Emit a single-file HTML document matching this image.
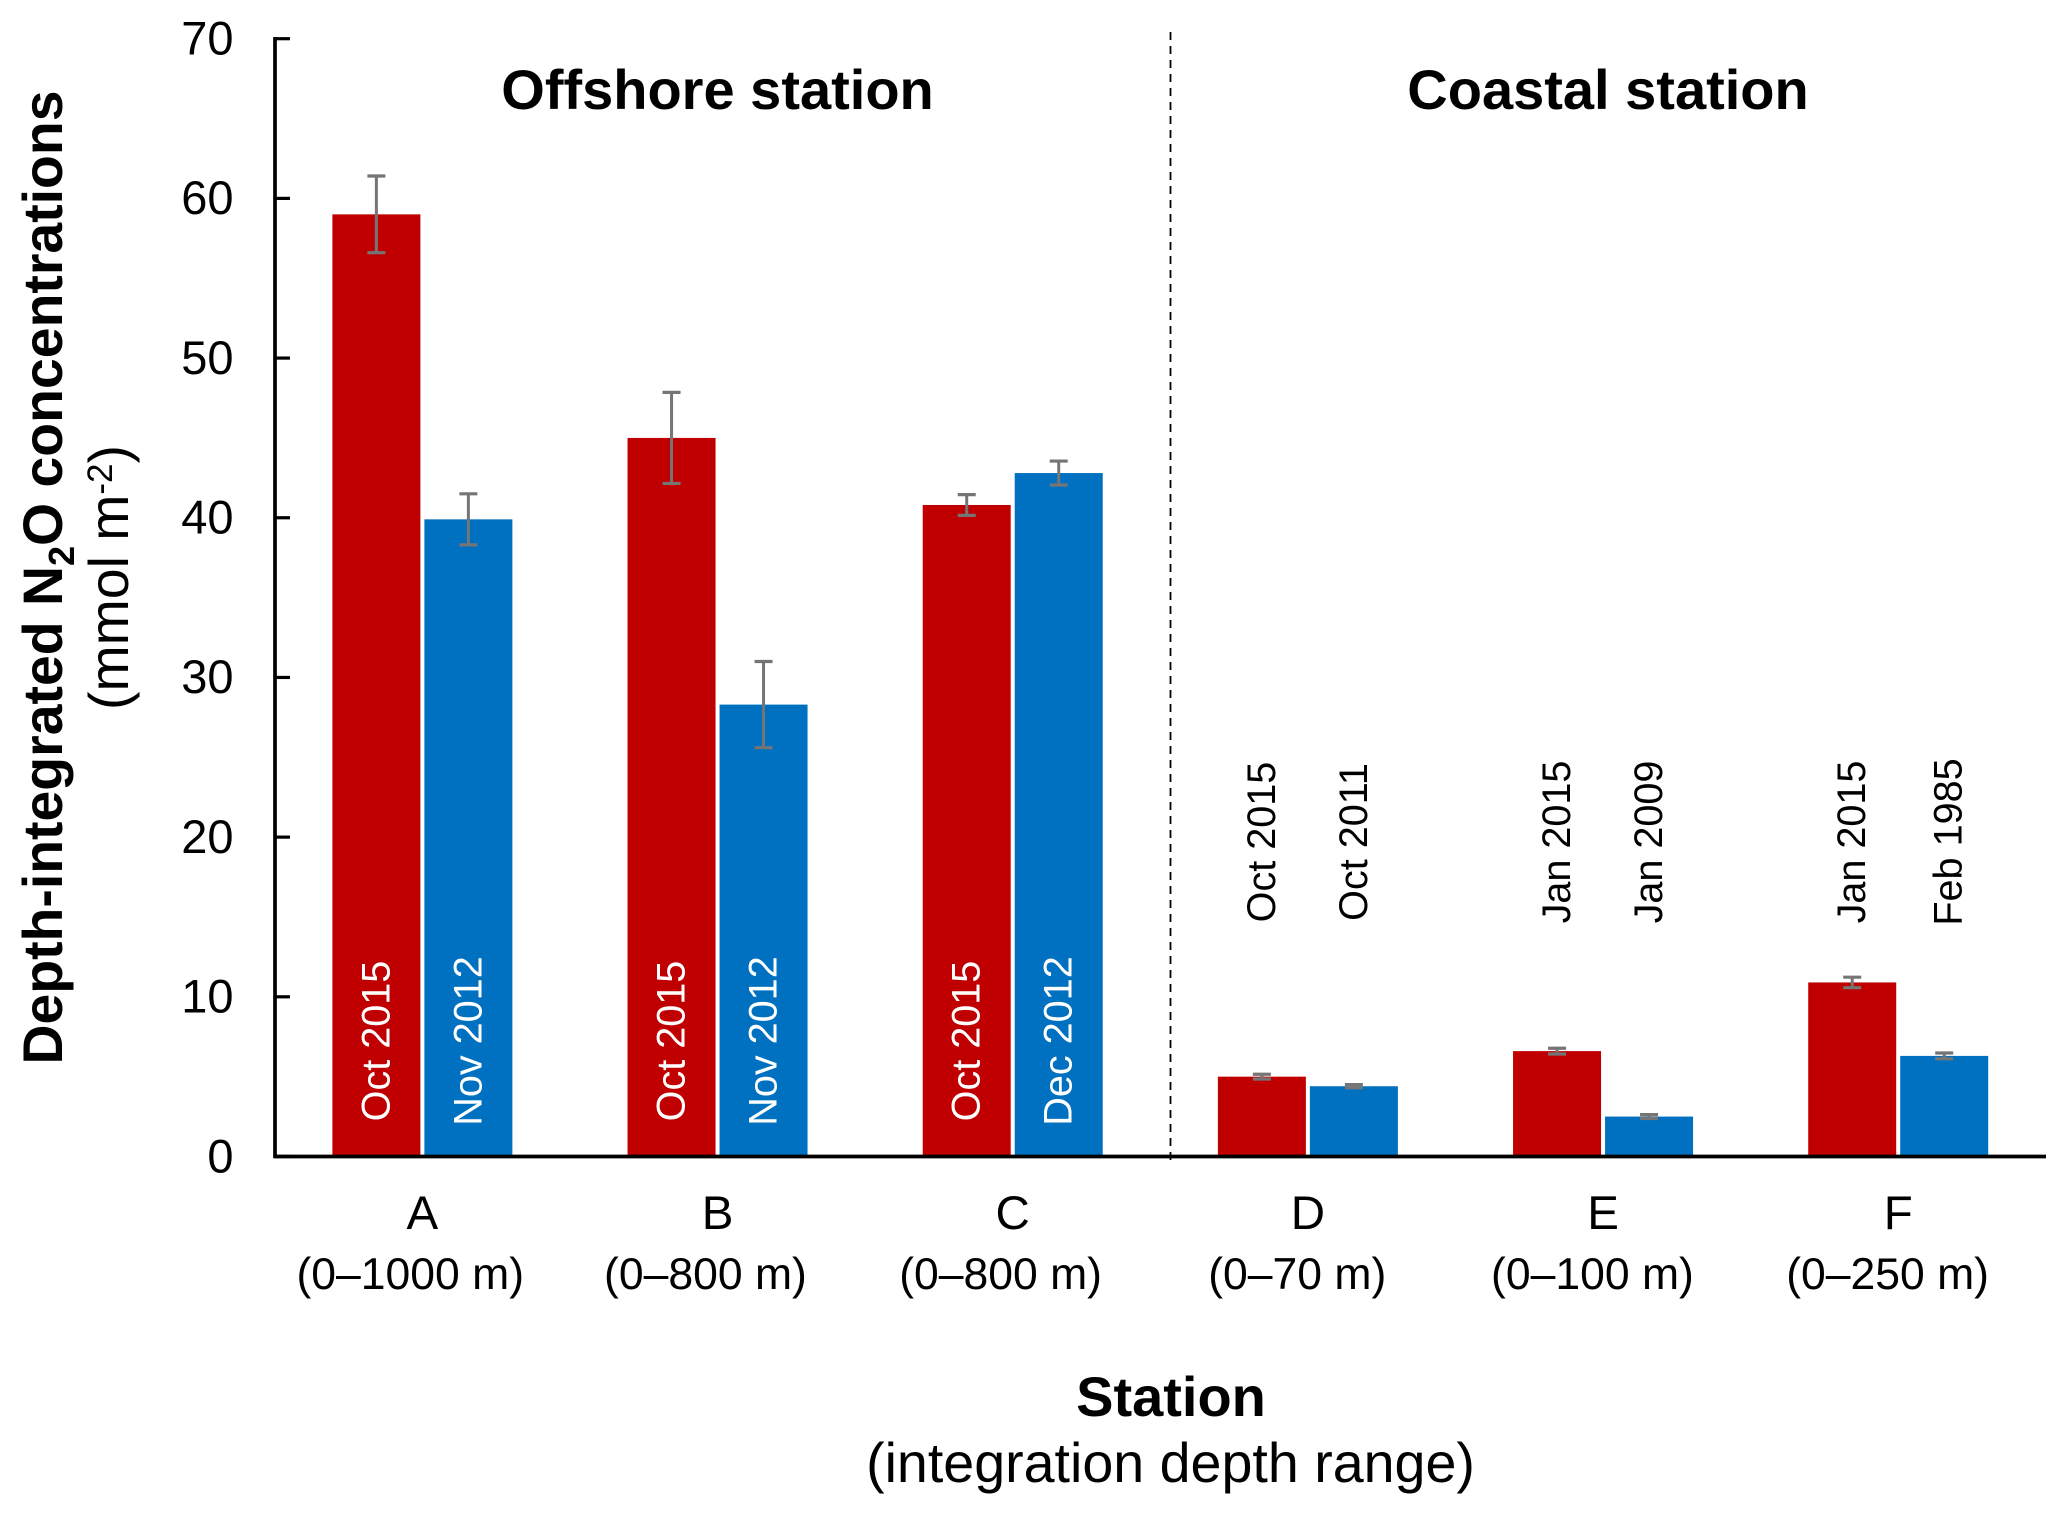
<!DOCTYPE html>
<html lang="en">
<head>
<meta charset="utf-8">
<title>Depth-integrated N2O concentrations by station</title>
<style>
html,body{margin:0;padding:0;background:#fff;width:2067px;height:1515px;overflow:hidden}
svg{display:block}
text{font-family:"Liberation Sans",Arial,sans-serif;fill:#000}
</style>
</head>
<body>
<svg id="chart" xmlns="http://www.w3.org/2000/svg" width="2067" height="1515" viewBox="0 0 2067 1515">
  <rect x="0" y="0" width="2067" height="1515" fill="#fff"/>
  <g id="bars"></g>
  <g id="errors"></g>
  <g id="dates"></g>
  <g id="axes"></g>
  <line x1="1170.5" y1="32" x2="1170.5" y2="1165" stroke="#000" stroke-width="1.8" stroke-dasharray="8 6"/>
  <text x="717.5" y="109" font-size="56" font-weight="700" text-anchor="middle">Offshore station</text>
  <text x="1608" y="109" font-size="56" font-weight="700" text-anchor="middle">Coastal station</text>
  <text transform="translate(62 577.5) rotate(-90)" font-size="55.4" font-weight="700" text-anchor="middle">Depth-integrated N<tspan font-size="36" dy="12">2</tspan><tspan dy="-12">O concentrations</tspan></text>
  <text transform="translate(128 577.5) rotate(-90)" font-size="55.4" text-anchor="middle">(mmol m<tspan font-size="35" dy="-16">-2</tspan><tspan dy="16">)</tspan></text>
  <text x="1171" y="1416" font-size="56" font-weight="700" text-anchor="middle">Station</text>
  <text x="1170.5" y="1482" font-size="55.6" text-anchor="middle">(integration depth range)</text>
</svg>
<script>
const categories = ['A', 'B', 'C', 'D', 'E', 'F'];
const depthRanges = ['(0–1000 m)', '(0–800 m)', '(0–800 m)', '(0–70 m)', '(0–100 m)', '(0–250 m)'];
const redValues = [59, 45, 40.8, 5, 6.6, 10.9];
const blueValues = [39.9, 28.3, 42.8, 4.4, 2.5, 6.3];
const redErrors = [2.4, 2.85, 0.65, 0.15, 0.18, 0.33];
const blueErrors = [1.6, 2.7, 0.75, 0.1, 0.12, 0.18];
const redDates = ['Oct 2015', 'Oct 2015', 'Oct 2015', 'Oct 2015', 'Jan 2015', 'Jan 2015'];
const blueDates = ['Nov 2012', 'Nov 2012', 'Dec 2012', 'Oct 2011', 'Jan 2009', 'Feb 1985'];
const yTicks = [0, 10, 20, 30, 40, 50, 60, 70];

const NS = 'http://www.w3.org/2000/svg';
const X0 = 275, X1 = 2046, Y0 = 1156.5, Y70 = 38.7, Y_MAX = 70;
const BAR_W = 88, BAR_GAP = 4;
const step = (X1 - X0) / categories.length;

function xCenter(i) { return X0 + step * (i + 0.5) - 0.2; }
function yPos(v) { return Y0 - (v / Y_MAX) * (Y0 - Y70); }
function barX(i, s) { return s === 0 ? xCenter(i) - BAR_GAP / 2 - BAR_W : xCenter(i) + BAR_GAP / 2; }
function mk(parent, tag, attrs, txt) {
  const el = document.createElementNS(NS, tag);
  for (const k in attrs) el.setAttribute(k, attrs[k]);
  if (txt !== undefined) el.textContent = txt;
  parent.appendChild(el);
  return el;
}

const gBars = document.getElementById('bars');
const gErr = document.getElementById('errors');
const gDates = document.getElementById('dates');
const gAxes = document.getElementById('axes');

const seriesList = [
  { key: 'red', values: redValues, errors: redErrors, dates: redDates, color: '#C00000' },
  { key: 'blue', values: blueValues, errors: blueErrors, dates: blueDates, color: '#0070C0' }
];

seriesList.forEach(function (series, s) {
  categories.forEach(function (cat, i) {
    const v = series.values[i], e = series.errors[i], x = barX(i, s);
    const cx = x + BAR_W / 2;

    const bar = mk(gBars, 'rect', { x: x, y: yPos(v), width: BAR_W, height: Y0 - yPos(v), fill: series.color });
    
    

    const stem = mk(gErr, 'line', { x1: cx, x2: cx, y1: yPos(v + e), y2: yPos(v - e), stroke: '#757575', 'stroke-width': 3 });
    
    

    const capTop = mk(gErr, 'line', { x1: cx - 9, x2: cx + 9, y1: yPos(v + e), y2: yPos(v + e), stroke: '#757575', 'stroke-width': 3.2 });
    
    

    const capBot = mk(gErr, 'line', { x1: cx - 9, x2: cx + 9, y1: yPos(v - e), y2: yPos(v - e), stroke: '#757575', 'stroke-width': 3.2 });
    
    

    const inside = i < 3;
    const labelY = inside ? 1041 : 842;
    const nudge = series.dates[i] === 'Feb 1985' ? 4.5 : 0;
    const label = mk(gDates, 'text', {
      transform: 'translate(' + (x + 57 + nudge) + ' ' + labelY + ') rotate(-90)',
      'font-size': 39.6,
      'text-anchor': 'middle',
      style: 'fill:' + (inside ? '#fff' : '#000')
    }, series.dates[i]);
    
    
  });
});

const yAxisLine = mk(gAxes, 'line', { x1: X0, x2: X0, y1: yPos(Y_MAX) - 1.7, y2: Y0 + 1.8, stroke: '#000', 'stroke-width': 3.7 });



const xAxisLine = mk(gAxes, 'line', { x1: X0, x2: X1, y1: Y0, y2: Y0, stroke: '#000', 'stroke-width': 3.7 });



yTicks.forEach(function (t) {
  const tick = mk(gAxes, 'line', { x1: X0, x2: X0 + 15, y1: yPos(t), y2: yPos(t), stroke: '#000', 'stroke-width': 3.2 });
  
  

  const lab = mk(gAxes, 'text', { x: 233.5, y: yPos(t) + 15.8, 'font-size': 47, 'text-anchor': 'end' }, String(t));
  
  
});

categories.forEach(function (cat, i) {
  const c = mk(gAxes, 'text', { x: xCenter(i), y: 1229, 'font-size': 47.5, 'text-anchor': 'middle' }, cat);
  
  

  const rangeOffset = i < 3 ? -12.1 : -10.6;
  const r = mk(gAxes, 'text', { x: xCenter(i) + rangeOffset, y: 1289, 'font-size': 44.5, 'text-anchor': 'middle' }, depthRanges[i]);
  
  
});
</script>
</body>
</html>
